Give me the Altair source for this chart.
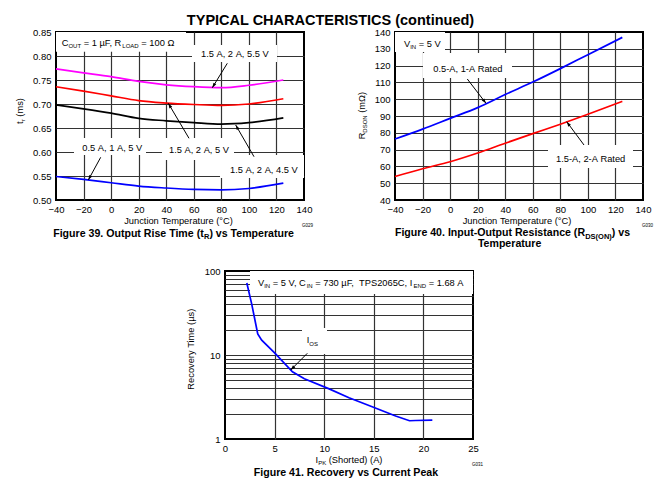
import math
import altair as alt
import pandas as pd

# ---------------- data ----------------
# Figure 39: output rise time vs junction temperature
temps_rise = [-40, -20, 0, 20, 40, 60, 80, 100, 125]
rise_15a_55v = [0.773, 0.765, 0.757, 0.747, 0.740, 0.736, 0.734, 0.739, 0.750]
rise_15a_50v = [0.736, 0.727, 0.717, 0.707, 0.702, 0.699, 0.697, 0.700, 0.711]
rise_15a_45v = [0.698, 0.690, 0.681, 0.670, 0.665, 0.661, 0.658, 0.661, 0.671]
rise_05a_50v = [0.549, 0.543, 0.536, 0.529, 0.525, 0.522, 0.521, 0.524, 0.535]
rise_series = ["1.5 A, 2 A, 5.5 V", "1.5 A, 2 A, 5 V", "1.5 A, 2 A, 4.5 V", "0.5 A, 1 A, 5 V"]
rise_colors = ["#ff00ff", "#ff0000", "#000000", "#0000ff"]

# Figure 40: RDS(ON) vs junction temperature
temps_rds = [-40, -20, 0, 20, 40, 60, 80, 100, 125]
rds_05a = [76.3, 82.2, 88.6, 95.0, 102.8, 110.2, 118.2, 126.5, 136.8]
rds_15a = [54.0, 58.6, 62.8, 68.0, 73.8, 79.5, 85.1, 91.0, 98.7]
rds_series = ["0.5-A, 1-A Rated", "1.5-A, 2-A Rated"]
rds_colors = ["#0000ff", "#ff0000"]

# Figure 41: recovery time vs current peak
ipk = [2.2, 2.7, 3.3, 3.7, 5.0, 6.8, 8.0, 10.5, 12.5, 14.9, 17.2, 18.6, 19.2, 20.9]
recovery_us = [72, 40, 17.8, 15.0, 10.6, 6.3, 5.2, 3.95, 3.1, 2.4, 1.88, 1.65, 1.66, 1.68]

temp_ticks = [-40, -20, 0, 20, 40, 60, 80, 100, 120, 140]
rise_ticks = [0.50, 0.55, 0.60, 0.65, 0.70, 0.75, 0.80, 0.85]
rds_ticks = [40, 50, 60, 70, 80, 90, 100, 110, 120, 130, 140]
ipk_ticks = [0, 5, 10, 15, 20, 25]
rec_ticks = [1, 2, 3, 4, 5, 6, 7, 8, 9, 10, 20, 30, 40, 50, 60, 70, 80, 90, 100]

# ---------------- styling helpers ----------------
FONT = "Liberation Sans"
W, H = 248, 168
FS, SUB = 9.3, 6.0
GRID = "#333333"

_up = "ABCDEFGHIJKLMNOPQRSTUVWXYZ"
_lo = "abcdefghijklmnopqrstuvwxyz"
REG = dict(zip(_up, [667, 667, 722, 722, 667, 611, 778, 722, 278, 500, 667, 556, 833, 722, 778, 667, 778, 722, 667, 611, 722, 667, 944, 667, 667, 611]))
REG.update(zip(_lo, [556, 556, 500, 556, 556, 278, 556, 556, 222, 222, 500, 222, 833, 556, 556, 556, 556, 333, 500, 278, 556, 500, 722, 500, 500, 500]))
BOLD = dict(zip(_up, [722, 722, 722, 722, 667, 611, 778, 722, 278, 556, 722, 611, 833, 722, 778, 667, 778, 722, 667, 611, 722, 667, 944, 667, 667, 611]))
BOLD.update(zip(_lo, [556, 611, 556, 611, 556, 333, 611, 611, 278, 278, 556, 278, 889, 611, 611, 611, 611, 389, 556, 333, 611, 556, 778, 556, 556, 500]))
for _t in (REG, BOLD):
    _t.update({c: 556 for c in "0123456789"})
    _t.update({" ": 278, "(": 333, ")": 333, ",": 278, "-": 333, ".": 278, "=": 584, "°": 400, "µ": 576, "Ω": 768})


def tw(s, size, bold=False):
    t = BOLD if bold else REG
    return sum(t.get(c, 556) for c in s) * size / 1000.0


def rich(pieces, x, y, size=FS, sub=SUB, anchor="left", angle=0, bold=False, sub_dy=2.2):
    widths = [tw(t, sub if s else size, bold) for t, s in pieces]
    total = sum(widths)
    cur = -total / 2 if anchor == "center" else 0.0
    rows = []
    for (t, s), w in zip(pieces, widths):
        fs = sub if s else size
        off = sub_dy if s else 0.0
        lead = len(t) - len(t.lstrip(" "))
        shift = tw(" " * lead, fs, bold)
        txt = t.strip(" ").replace(" ", "\u00a0")
        if angle == 0:
            rows.append(dict(px=x + cur + shift, py=y + off, text=txt, fs=fs, ang=0))
        else:
            rows.append(dict(px=x + off, py=y - cur - shift, text=txt, fs=fs, ang=270))
        cur += w
    return rows


def edge_hide(lo, hi):
    return {"condition": {"test": f"datum.value == {lo} || datum.value == {hi}", "value": 0}, "value": 1}


def box_layer(boxes):
    bdf = pd.DataFrame(boxes, columns=["x1", "x2", "y1", "y2"])
    return alt.Chart(bdf).mark_rect(color="white").encode(
        x=alt.X("x1:Q", scale=None, axis=None), x2="x2:Q",
        y=alt.Y("y1:Q", scale=None, axis=None), y2="y2:Q")


def annot_layers(arrows, texts, bold_texts):
    layers = []
    rows = []
    for (x1, y1, x2, y2) in arrows:
        ang = math.degrees(math.atan2(x2 - x1, -(y2 - y1))) % 360
        rows.append(dict(x1=x1, y1=y1, x2=x2, y2=y2, ang=ang))
    adf = pd.DataFrame(rows)
    layers.append(alt.Chart(adf).mark_rule(color="black", strokeWidth=1).encode(
        x=alt.X("x1:Q", scale=None, axis=None), x2="x2:Q",
        y=alt.Y("y1:Q", scale=None, axis=None), y2="y2:Q"))
    layers.append(alt.Chart(adf).mark_point(
        shape="M0,0L-0.6,1.8L0.6,1.8Z", filled=True, color="black", opacity=1, size=30
    ).encode(
        x=alt.X("x2:Q", scale=None, axis=None),
        y=alt.Y("y2:Q", scale=None, axis=None),
        angle=alt.Angle("ang:Q", scale=None)))
    for trows, weight in ((texts, "normal"), (bold_texts, "bold")):
        tdf = pd.DataFrame(trows)
        layers.append(alt.Chart(tdf).mark_text(
            align="left", baseline="alphabetic", font=FONT, fontWeight=weight, color="black"
        ).encode(
            x=alt.X("px:Q", scale=None, axis=None),
            y=alt.Y("py:Q", scale=None, axis=None),
            text="text:N",
            size=alt.Size("fs:Q", scale=None, legend=None),
            angle=alt.Angle("ang:Q", scale=None)))
    return layers


CAP, CAPSUB = 10.6, 7.5

# ---------------- Figure 39 ----------------
rise_df = pd.DataFrame({
    "temp": temps_rise * 4,
    "t": rise_15a_55v + rise_15a_50v + rise_15a_45v + rise_05a_50v,
    "series": sum([[s] * len(temps_rise) for s in rise_series], []),
    "col": sum([[c] * len(temps_rise) for c in rise_colors], []),
})
temp_x = alt.X("temp:Q", scale=alt.Scale(domain=[-40, 140], nice=False, zero=False),
               axis=alt.Axis(values=temp_ticks, title=None, gridOpacity=edge_hide(-40, 140)))
lines1 = alt.Chart(rise_df).mark_line(interpolate="monotone", strokeWidth=1.7).encode(
    x=temp_x,
    y=alt.Y("t:Q", scale=alt.Scale(domain=[0.5, 0.85], nice=False, zero=False),
            axis=alt.Axis(values=rise_ticks, format=".2f", title=None, gridOpacity=edge_hide(0.5, 0.85))),
    color=alt.Color("col:N", scale=None),
    detail="series:N",
)
t1 = []
t1 += rich([("C", 0), ("OUT", 1), (" = 1 µF, R", 0), ("LOAD", 1), (" = 100 Ω", 0)], 5.7, 13.5)
t1 += rich([("1.5 A, 2 A, 5.5 V", 0)], 145, 24.7)
t1 += rich([("1.5 A, 2 A, 5 V", 0)], 113, 121.3)
t1 += rich([("1.5 A, 2 A, 4.5 V", 0)], 174, 140.7)
t1 += rich([("0.5 A, 1 A, 5 V", 0)], 26.3, 118.7)
t1 += rich([("Junction Temperature (°C)", 0)], 123, 192, anchor="center")
t1 += rich([("t", 0), ("r", 1), (" (ms)", 0)], -33, 79, anchor="center", angle=270)
t1 += rich([("G029", 0)], 246, 195, size=4.5)
b1 = rich([("Figure 39. Output Rise Time (t", 0), ("R", 1), (") vs Temperature", 0)],
          118, 204.7, size=CAP, sub=CAPSUB, anchor="center", bold=True, sub_dy=2.5)
p1 = alt.layer(
    box_layer([(0, 130, 0, 19.7), (136, 221, 13, 30), (106, 178, 106, 128), (164, 248, 123, 146), (18, 90, 106, 123)]),
    lines1,
    *annot_layers([(171.3, 31.3, 156.3, 55.7), (133, 106.3, 112.3, 71.3), (198, 124.7, 179.7, 93), (44.7, 125.3, 32.3, 148)],
                  t1, b1),
).properties(width=W, height=H)

# ---------------- Figure 40 ----------------
rds_df = pd.DataFrame({
    "temp": temps_rds * 2,
    "r": rds_05a + rds_15a,
    "series": sum([[s] * len(temps_rds) for s in rds_series], []),
    "col": sum([[c] * len(temps_rds) for c in rds_colors], []),
})
lines2 = alt.Chart(rds_df).mark_line(interpolate="monotone", strokeWidth=1.7).encode(
    x=temp_x,
    y=alt.Y("r:Q", scale=alt.Scale(domain=[40, 140], nice=False, zero=False),
            axis=alt.Axis(values=rds_ticks, title=None, gridOpacity=edge_hide(40, 140))),
    color=alt.Color("col:N", scale=None),
    detail="series:N",
)
t2 = []
t2 += rich([("V", 0), ("IN", 1), (" = 5 V", 0)], 9, 14.7)
t2 += rich([("0.5-A, 1-A Rated", 0)], 38.3, 40.3)
t2 += rich([("1.5-A, 2-A Rated", 0)], 161, 129.7)
t2 += rich([("Junction Temperature (°C)", 0)], 122.5, 192, anchor="center")
t2 += rich([("R", 0), ("DSON", 1), (" (mΩ)", 0)], -30, 83.5, anchor="center", angle=270)
t2 += rich([("G030", 0)], 247, 195, size=4.5)
b2 = rich([("Figure 40. Input-Output Resistance (R", 0), ("DS(ON)", 1), (") vs", 0)],
          117.5, 204, size=CAP, sub=CAPSUB, anchor="center", bold=True, sub_dy=2.5)
b2 += rich([("Temperature", 0)], 115, 214.5, size=CAP, anchor="center", bold=True)
p2 = alt.layer(
    box_layer([(0, 50, 0, 20), (28, 117, 21, 46), (153, 238, 113, 136)]),
    lines2,
    *annot_layers([(72.3, 47, 91, 71.3), (189, 113, 171.7, 89.7)], t2, b2),
).properties(width=W, height=H)

# ---------------- Figure 41 ----------------
rec_df = pd.DataFrame({"ipk": ipk, "rec": recovery_us})
lines3 = alt.Chart(rec_df).mark_line(color="#0000ff", strokeWidth=1.7).encode(
    x=alt.X("ipk:Q", scale=alt.Scale(domain=[0, 25], nice=False, zero=False),
            axis=alt.Axis(values=ipk_ticks, title=None, gridOpacity=edge_hide(0, 25))),
    y=alt.Y("rec:Q", scale=alt.Scale(type="log", domain=[1, 100], nice=False),
            axis=alt.Axis(values=rec_ticks, format="d", title=None, gridOpacity=edge_hide(1, 100),
                          labelExpr="datum.value == 1 || datum.value == 10 || datum.value == 100 ? datum.label : ''")),
)
t3 = []
t3 += rich([("V", 0), ("IN", 1), (" = 5 V, C", 0), ("IN", 1), (" = 730 µF,  TPS2065C, I", 0), ("END", 1), (" = 1.68 A", 0)], 33, 14.7)
t3 += rich([("I", 0), ("OS", 1)], 81.7, 72.3)
t3 += rich([("I", 0), ("PK", 1), (" (Shorted) (A)", 0)], 124, 191.5, anchor="center")
t3 += rich([("Recovery Time (µs)", 0)], -31, 78, anchor="center", angle=270)
t3 += rich([("G031", 0)], 247, 195, size=4.5)
b3 = rich([("Figure 41. Recovery vs Current Peak", 0)], 121, 204.5, size=CAP, anchor="center", bold=True)
p3 = alt.layer(
    box_layer([(25, 248, 0, 23), (77, 102, 57, 83)]),
    lines3,
    *annot_layers([(82.3, 82.3, 65.7, 99)], t3, b3),
).properties(width=W, height=H)

spacer = alt.Chart(pd.DataFrame({"a": [0]})).mark_point(opacity=0).encode(
    x=alt.X("a:Q", scale=None, axis=None), y=alt.Y("a:Q", scale=None, axis=None)
).properties(width=108, height=1, view=alt.ViewBackground(stroke="transparent"))

# ---------------- assemble ----------------
top = alt.hconcat(p1, p2, spacing=91, bounds="flush")
bottom = alt.hconcat(spacer, p3, spacing=61, bounds="flush")
chart = alt.vconcat(top, bottom, spacing=14).properties(
    title=alt.TitleParams("TYPICAL CHARACTERISTICS (continued)", font=FONT, fontSize=14.5,
                          fontWeight="bold", color="black", anchor="middle", dx=-4, offset=-2),
    padding={"left": 7, "top": 4, "right": 5, "bottom": 5},
).configure_view(stroke="black", strokeWidth=2).configure_axis(
    domain=False, ticks=False, labelFont=FONT, labelFontSize=9.5, labelColor="black",
    gridColor=GRID, gridWidth=1.2, labelPadding=5, labelFlush=False,
).configure_axisX(labelPadding=4)

chart.save("out.html", embed_options={"renderer": "svg", "actions": False})
